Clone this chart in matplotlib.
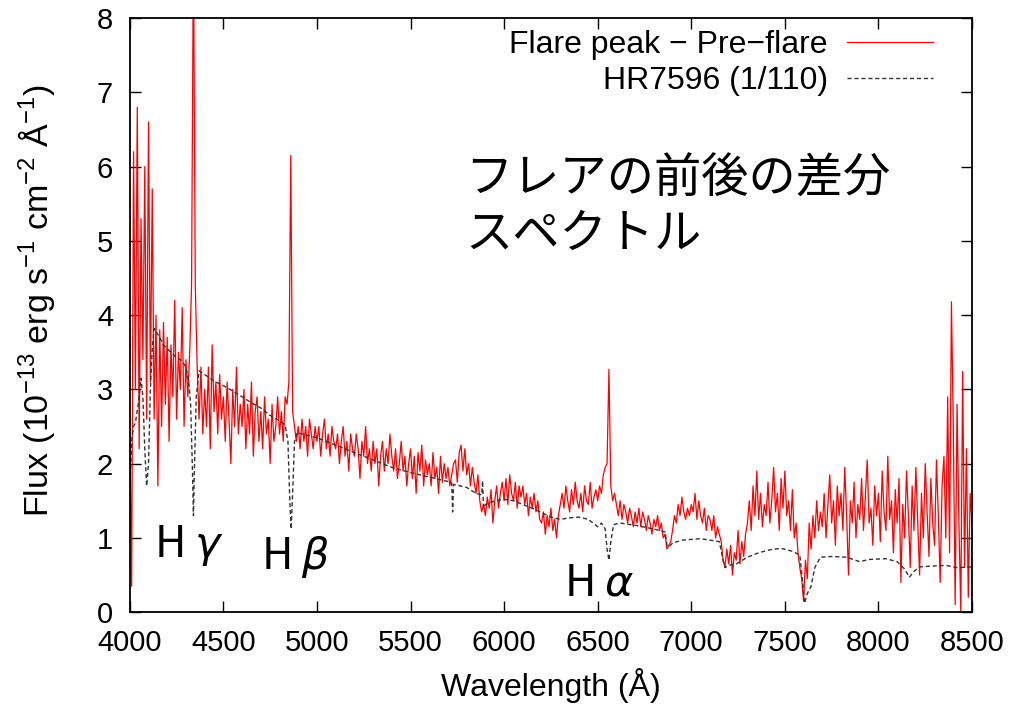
import numpy as np
import matplotlib
matplotlib.use("Agg")
import matplotlib.pyplot as plt

plt.rcParams['font.family'] = ['Liberation Sans', 'Noto Sans CJK JP', 'DejaVu Sans']
plt.rcParams['mathtext.default'] = 'regular'
plt.rcParams['mathtext.fontset'] = 'dejavusans'

# flare peak - pre-flare, sampled every 10 A from 4000 to 8500
wave_flare = np.arange(4000, 8501, 10)
flux_flare = [
    2.5, 0.35, 6.2, 3.0, 6.8, 2.2, 5.3, 3.4, 6.0, 2.6,       # 4000
    6.6, 3.1, 5.7, 2.6, 4.0, 1.7, 3.8, 2.5, 3.9, 2.8,        # 4100
    3.7, 2.3, 3.6, 2.9, 4.2, 2.6, 3.5, 3.0, 4.1, 2.5,        # 4200
    3.4, 2.9, 3.5, 4.4, 9.0, 4.4, 3.3, 2.6, 3.3, 2.4,        # 4300
    3.0, 2.5, 3.3, 2.2, 3.6, 2.7, 3.1, 2.4, 3.2, 2.6,        # 4400
    2.9, 2.3, 3.1, 2.6, 2.0, 3.0, 2.5, 3.3, 2.4, 2.8,        # 4500
    2.5, 3.0, 2.2, 2.8, 2.4, 3.1, 2.1, 2.7, 2.9, 2.3,        # 4600
    2.7, 2.2, 2.9, 2.4, 2.6, 2.0, 2.8, 2.3, 2.5, 2.9,        # 4700
    2.4, 2.7, 2.3, 2.9, 2.8, 3.1, 6.15, 2.7, 2.5, 2.3,       # 4800
    2.5, 2.2, 2.6, 2.3, 2.5, 2.1, 2.6, 2.4, 2.2, 2.5,        # 4900
    2.3, 2.5, 2.1, 2.4, 2.6, 2.2, 2.4, 2.1, 2.5, 2.3,        # 5000
    2.2, 2.4, 2.0, 2.3, 2.5, 2.1, 2.3, 1.9, 2.4, 2.2,        # 5100
    2.1, 2.4, 2.2, 1.8, 2.3, 2.1, 2.5, 2.0, 2.2, 1.9,        # 5200
    2.3, 2.0, 2.2, 1.7, 2.1, 2.3, 1.9, 2.2, 2.0, 2.4,        # 5300
    2.1, 1.9, 2.2, 1.8, 2.0, 2.3, 1.9, 2.1, 1.7, 2.0,        # 5400
    2.2, 1.8, 2.1, 1.6, 2.15, 1.9, 2.25, 1.7, 2.05, 1.85,    # 5500
    2.0, 1.7, 2.15, 1.8, 1.95, 1.6, 2.1, 1.75, 2.0, 1.8,     # 5600
    1.95, 1.7, 1.85, 2.0, 2.05, 1.75, 2.15, 2.25, 1.9, 2.2,  # 5700
    1.85, 2.0, 1.7, 1.95, 1.75, 1.6, 1.85, 1.5, 1.35, 1.45,  # 5800
    1.3, 1.55, 1.4, 1.65, 1.2, 1.5, 1.7, 1.4, 1.6, 1.75,     # 5900
    1.5, 1.8, 1.45, 1.85, 1.6, 1.5, 1.75, 1.4, 1.7, 1.55,    # 6000
    1.7, 1.45, 1.6, 1.3, 1.55, 1.4, 1.6, 1.35, 1.5, 1.25,    # 6100
    1.2, 1.35, 1.05, 1.3, 1.15, 1.4, 1.1, 1.25, 1.0, 1.3,    # 6200
    1.45, 1.6, 1.4, 1.7, 1.5, 1.35, 1.65, 1.45, 1.75, 1.5,   # 6300
    1.4, 1.6, 1.35, 1.7, 1.5, 1.45, 1.75, 1.4, 1.55, 1.65,   # 6400
    1.5, 1.7, 1.6, 1.85, 1.95, 2.0, 3.27, 1.7, 1.5, 1.6,     # 6500
    1.45, 1.3, 1.5, 1.25, 1.45, 1.35, 1.2, 1.4, 1.3, 1.15,   # 6600
    1.35, 1.2, 1.4, 1.15, 1.35, 1.25, 1.1, 1.3, 1.2, 1.05,   # 6700
    1.25, 1.15, 1.3, 1.1, 1.2, 1.0, 1.05, 0.85, 0.9, 0.95,   # 6800
    1.1, 1.3, 1.2, 1.45, 1.3, 1.55, 1.35, 1.25, 1.4, 1.3,    # 6900
    1.45, 1.35, 1.6, 1.25, 1.5, 1.3, 1.2, 1.4, 1.1, 1.3,     # 7000
    1.25, 1.1, 1.3, 1.0, 1.15, 1.05, 0.95, 0.7, 0.6, 0.85,   # 7100
    0.65, 0.9, 0.5, 0.8, 0.7, 1.1, 0.65, 0.95, 0.75, 1.05,   # 7200
    1.2, 1.5, 1.1, 1.7, 1.3, 1.9, 1.25, 1.6, 1.15, 1.45,     # 7300
    1.3, 1.75, 1.2, 1.5, 1.95, 1.35, 1.6, 1.1, 1.8, 1.4,     # 7400
    1.9, 1.3, 1.5, 1.1, 1.65, 1.0, 1.2, 0.8, 0.6, 0.45,      # 7500
    0.15, 0.7, 0.45, 1.2, 0.85, 1.3, 1.0, 1.5, 1.1, 1.35,    # 7600
    1.15, 1.6, 1.0, 1.45, 1.85, 1.2, 1.5, 0.9, 1.7, 1.3,     # 7700
    1.6, 1.1, 1.95, 1.3, 0.5, 1.5, 1.2, 1.75, 1.0, 1.45,     # 7800
    1.25, 1.8, 1.1, 1.55, 2.05, 1.2, 1.4, 0.9, 1.7, 1.3,     # 7900
    1.6, 0.95, 1.9, 1.35, 1.1, 2.1, 1.25, 1.5, 0.8, 1.65,    # 8000
    1.2, 1.8, 0.4, 1.45, 1.0, 1.9, 1.3, 0.6, 1.7, 1.1,       # 8100
    1.95, 1.2, 0.5, 1.6, 1.0, 2.0, 1.35, 0.75, 1.8, 1.2,     # 8200
    0.9, 2.05, 1.3, 0.4, 1.7, 2.1, 1.0, 2.9, 0.8, 4.18,      # 8300
    2.5, 0.1, 2.8, 1.2, 0.0, 3.24, 0.6, 2.2, 0.2, 1.6,       # 8400
    1.2,                                                     # 8500
]

# HR7596 standard star scaled by 1/110
wave_std = [4000, 4010, 4020, 4030, 4045, 4060, 4070, 4080, 4090, 4100,
            4110, 4120, 4130, 4140, 4160, 4180, 4200, 4220, 4240, 4260,
            4280, 4300, 4315, 4325, 4335, 4340, 4345, 4355, 4370, 4400,
            4430, 4460, 4500, 4550, 4600, 4650, 4700, 4750, 4800, 4830,
            4845, 4855, 4862, 4870, 4880, 4895, 4920, 4950, 5000, 5100,
            5200, 5300, 5400, 5500, 5600, 5700, 5720, 5725, 5730, 5800,
            5850, 5880, 5885, 5890, 5900, 5950, 6000, 6050, 6100, 6150,
            6200, 6250, 6300, 6350, 6400, 6450, 6500, 6520, 6540, 6550,
            6560, 6570, 6585, 6620, 6700, 6800, 6860, 6870, 6880, 6900,
            6950, 7000, 7050, 7100, 7150, 7170, 7180, 7200, 7240, 7300,
            7360, 7420, 7480, 7540, 7580, 7595, 7605, 7620, 7640, 7660,
            7690, 7750, 7830, 7900, 7950, 8040, 8100, 8140, 8165, 8190,
            8220, 8280, 8360, 8420, 8500]
flux_std = [1.65, 2.3, 2.5, 2.55, 2.8, 3.15, 2.9, 2.2, 1.7, 2.0,
            3.0, 3.55, 3.82, 3.78, 3.7, 3.6, 3.55, 3.5, 3.45, 3.42,
            3.38, 3.3, 3.1, 2.8, 1.9, 1.3, 1.9, 2.9, 3.25, 3.2,
            3.15, 3.1, 3.05, 2.98, 2.9, 2.82, 2.75, 2.65, 2.58, 2.52,
            2.3, 1.5, 1.12, 1.6, 2.3, 2.42, 2.4, 2.38, 2.35, 2.25,
            2.15, 2.05, 1.95, 1.88, 1.82, 1.76, 1.74, 1.35, 1.72, 1.68,
            1.6, 1.58, 1.77, 1.4, 1.45, 1.5, 1.52, 1.5, 1.45, 1.4,
            1.34, 1.28, 1.25, 1.27, 1.28, 1.25, 1.15, 1.2, 1.12, 0.85,
            0.7, 0.95, 1.18, 1.2, 1.17, 1.12, 1.08, 0.9, 0.88, 0.93,
            0.97, 0.98, 0.99, 0.97, 0.95, 0.7, 0.6, 0.63, 0.65, 0.74,
            0.8, 0.84, 0.86, 0.82, 0.77, 0.4, 0.12, 0.25, 0.35, 0.6,
            0.74, 0.75, 0.74, 0.68, 0.71, 0.72, 0.68, 0.58, 0.47, 0.55,
            0.61, 0.62, 0.63, 0.6, 0.61]

line_names = ['H $\\mathit{\\gamma}$', 'H $\\mathit{\\beta}$', 'H $\\mathit{\\alpha}$']
line_label_x = [4130, 4700, 6320]
line_label_y = [0.9, 0.74, 0.39]

fig = plt.figure(figsize=(10.14, 7.11), dpi=100)
ax = fig.add_axes([0.128, 0.139, 0.8306, 0.8355])

ax.plot(wave_flare, flux_flare, color='red', lw=0.9, label='Flare peak − Pre−flare')
ax.plot(wave_std, flux_std, color='#333333', lw=1.0, ls=(0, (3, 2)),
        label='HR7596 (1/110)')

ax.set_xlim(4000, 8500)
ax.set_ylim(0, 8)
ax.set_xticks(np.arange(4000, 8501, 500))
ax.set_yticks(np.arange(0, 9, 1))
ax.tick_params(direction='in', length=8, width=1, top=True, right=True,
               labelsize=21)
ax.tick_params(axis='x', pad=12)
ax.tick_params(axis='y', pad=12)
for s in ax.spines.values():
    s.set_linewidth(1.3)

ax.set_xlabel('Wavelength (Å)', fontsize=23, labelpad=8)
ax.set_ylabel('Flux (10$^{-13}$ erg s$^{-1}$ cm$^{-2}$ Å$^{-1}$)', fontsize=24.5)
ax.yaxis.set_label_coords(-0.087, 0.524)

for name, lx, ly in zip(line_names, line_label_x, line_label_y):
    ax.text(lx, ly, name, fontsize=31, va='center', ha='left',
            family=['Noto Sans CJK JP', 'DejaVu Sans'])

ax.text(5790, 5.82, 'フレアの前後の差分', fontsize=34, va='center', ha='left',
        family=['Noto Sans CJK JP', 'DejaVu Sans'])
ax.text(5790, 5.08, 'スペクトル', fontsize=34, va='center', ha='left',
        family=['Noto Sans CJK JP', 'DejaVu Sans'])

ax.legend(loc='upper right', bbox_to_anchor=(0.9917, 1.0337), frameon=False,
          markerfirst=False, fontsize=23, handlelength=2.7, handletextpad=0.6,
          labelspacing=0.2, borderaxespad=0.8, borderpad=0.2)

fig.savefig('out.png', dpi=100)
